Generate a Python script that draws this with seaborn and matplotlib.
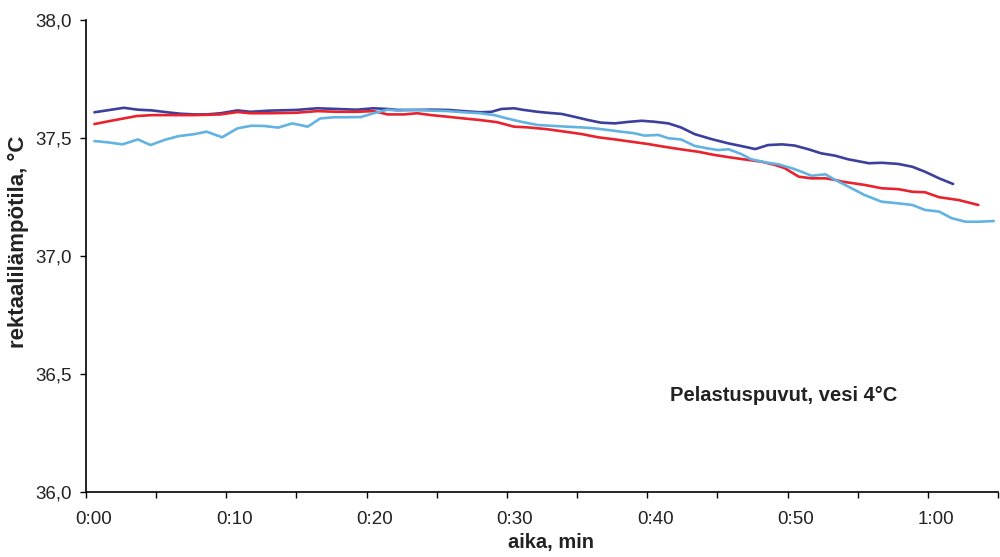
import numpy as np
import pandas as pd
import matplotlib
matplotlib.use("Agg")
import matplotlib.pyplot as plt
import matplotlib.transforms as mtransforms
import seaborn as sns

# -------- data (time in minutes, temperature in °C) --------
t_dark = [0.6, 2.7, 3.7, 4.7, 5.8, 6.7, 7.7, 8.6, 9.6, 10.8, 11.7, 13.1, 15.0, 16.5,
          17.9, 19.3, 20.5, 21.5, 22.2, 23.4, 24.6, 25.8, 26.9, 28.1, 28.9, 29.6,
          30.5, 31.2, 32.2, 32.9, 33.9, 34.8, 35.8, 36.7, 37.7, 38.6, 39.6, 40.5,
          41.5, 42.4, 43.4, 44.6, 45.8, 46.7, 47.7, 48.6, 49.6, 50.5, 51.5, 52.4,
          53.4, 54.3, 55.8, 56.7, 57.9, 58.9, 59.8, 60.8, 61.8]
temp_dark = [37.609, 37.628, 37.620, 37.617, 37.609, 37.603, 37.600, 37.600, 37.605,
             37.617, 37.611, 37.616, 37.619, 37.626, 37.623, 37.620, 37.626, 37.623,
             37.619, 37.619, 37.620, 37.619, 37.614, 37.609, 37.611, 37.623, 37.626,
             37.619, 37.611, 37.607, 37.602, 37.590, 37.576, 37.565, 37.562, 37.568,
             37.573, 37.569, 37.562, 37.545, 37.516, 37.495, 37.477, 37.466, 37.453,
             37.470, 37.473, 37.468, 37.452, 37.435, 37.425, 37.410, 37.393, 37.395,
             37.390, 37.378, 37.357, 37.329, 37.305]

t_red = [0.6, 1.7, 2.7, 3.6, 4.7, 5.8, 7.7, 9.6, 10.8, 11.7, 13.1, 15.0, 16.5, 17.9,
         19.3, 20.5, 21.5, 22.7, 23.6, 24.6, 25.8, 26.9, 28.1, 29.3, 30.5, 31.5,
         32.2, 32.9, 34.1, 35.3, 36.5, 37.7, 38.9, 40.0, 41.2, 42.4, 43.6, 44.8,
         46.0, 47.2, 48.1, 49.1, 49.8, 50.8, 51.7, 52.7, 53.4, 53.9, 55.5, 56.7,
         57.9, 58.9, 59.8, 60.8, 62.2, 63.6]
temp_red = [37.559, 37.572, 37.583, 37.593, 37.597, 37.597, 37.597, 37.600, 37.610,
            37.605, 37.605, 37.607, 37.614, 37.611, 37.611, 37.614, 37.600, 37.600,
            37.605, 37.597, 37.590, 37.583, 37.576, 37.567, 37.548, 37.545, 37.541,
            37.537, 37.527, 37.517, 37.503, 37.494, 37.484, 37.475, 37.463, 37.452,
            37.442, 37.428, 37.417, 37.407, 37.400, 37.386, 37.372, 37.336, 37.329,
            37.329, 37.322, 37.315, 37.301, 37.287, 37.283, 37.272, 37.270, 37.249,
            37.237, 37.216]

t_light = [0.6, 1.5, 2.6, 3.7, 4.6, 5.6, 6.6, 7.7, 8.6, 9.7, 10.8, 11.8, 12.7, 13.7,
           14.7, 15.8, 16.7, 17.7, 18.6, 19.6, 20.5, 21.5, 22.2, 23.4, 24.6, 25.8,
           26.9, 28.1, 29.1, 30.0, 31.0, 32.2, 33.4, 34.3, 35.3, 36.2, 37.2, 38.1,
           39.1, 39.8, 40.8, 41.5, 42.4, 43.4, 44.3, 45.0, 45.8, 46.7, 47.4, 48.4,
           49.3, 50.3, 51.0, 51.7, 52.7, 53.4, 54.1, 55.5, 56.7, 57.9, 58.9, 59.8,
           60.8, 61.7, 62.7, 63.6, 64.7]
temp_light = [37.487, 37.482, 37.473, 37.494, 37.470, 37.492, 37.508, 37.516, 37.527,
              37.503, 37.541, 37.552, 37.551, 37.544, 37.562, 37.548, 37.583, 37.588,
              37.588, 37.589, 37.605, 37.620, 37.616, 37.619, 37.616, 37.614, 37.609,
              37.605, 37.597, 37.583, 37.569, 37.555, 37.551, 37.548, 37.545, 37.541,
              37.534, 37.527, 37.520, 37.510, 37.513, 37.499, 37.494, 37.466, 37.456,
              37.449, 37.452, 37.432, 37.410, 37.397, 37.389, 37.372, 37.357, 37.340,
              37.346, 37.322, 37.301, 37.258, 37.230, 37.223, 37.216, 37.195, 37.188,
              37.160, 37.145, 37.145, 37.148]

series_names = ["sarja 1", "sarja 2", "sarja 3"]
colors = ["#3c3f9c", "#e8232e", "#62b3e2"]

x_ticks = [0, 5, 10, 15, 20, 25, 30, 35, 40, 45, 50, 55, 60, 65]
x_labels = ["0:00", "", "0:10", "", "0:20", "", "0:30", "", "0:40", "", "0:50", "", "1:00", ""]
y_ticks = [36.0, 36.5, 37.0, 37.5, 38.0]
y_labels = ["36,0", "36,5", "37,0", "37,5", "38,0"]

# -------- long table for seaborn --------
df = pd.concat([
    pd.DataFrame({"aika": t_dark, "temp": temp_dark, "sarja": series_names[0]}),
    pd.DataFrame({"aika": t_red, "temp": temp_red, "sarja": series_names[1]}),
    pd.DataFrame({"aika": t_light, "temp": temp_light, "sarja": series_names[2]}),
], ignore_index=True)

sns.set_style("ticks")
plt.rcParams["font.family"] = ["Liberation Sans", "DejaVu Sans"]

fig = plt.figure(figsize=(10, 5.57), dpi=100)
ax = fig.add_axes([0.086, 0.117, 0.912, 0.847])

sns.lineplot(data=df, x="aika", y="temp", hue="sarja", palette=colors,
             estimator=None, sort=False, linewidth=1.9, legend=False, ax=ax)

ax.set_xlim(0, 65)
ax.set_ylim(36.0, 38.0)
ax.set_xticks(x_ticks)
ax.set_xticklabels(x_labels)
ax.set_yticks(y_ticks)
ax.set_yticklabels(y_labels)
ax.tick_params(axis="both", labelsize=13.5, length=4, width=1, color="black",
               direction="out", labelcolor="#222222")
ax.tick_params(axis="x", pad=10)
ax.tick_params(axis="y", pad=6)

# x labels sit a little right of their ticks, as in the original
shift = mtransforms.ScaledTranslation(8 / 100, 0, fig.dpi_scale_trans)
for lab in ax.get_xticklabels():
    lab.set_transform(lab.get_transform() + shift)

for side in ["top", "right"]:
    ax.spines[side].set_visible(False)
for side in ["left", "bottom"]:
    ax.spines[side].set_color("black")
    ax.spines[side].set_linewidth(1.2)

ax.set_xlabel("aika, min", fontsize=14.5, fontweight="bold", color="#222222")
ax.xaxis.set_label_coords(0.51, -0.088)
ax.set_ylabel("rektaalilämpötila, °C", fontsize=16, fontweight="bold", color="#222222")
ax.yaxis.set_label_coords(-0.062, 0.53)

ax.text(41.6, 36.41, "Pelastuspuvut, vesi 4°C", fontsize=14.5, fontweight="bold",
        color="#222222", ha="left", va="center")

fig.savefig("out.png", dpi=100)
